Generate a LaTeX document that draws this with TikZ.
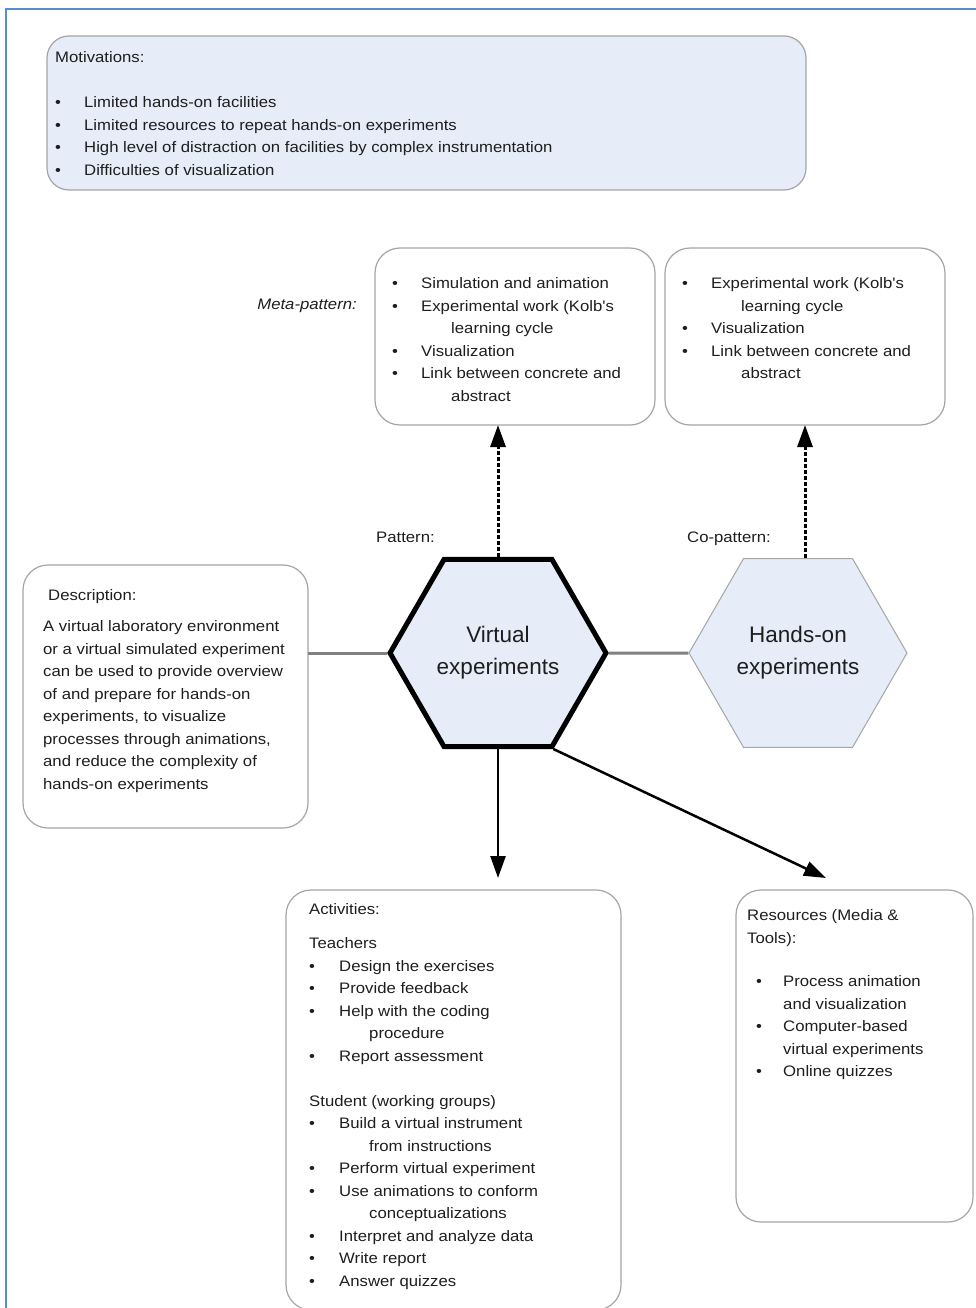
\documentclass[tikz,border=0pt]{standalone}
\usepackage{fontspec}
\setmainfont{Liberation Sans}
\newfontfamily\bodyfont[FakeStretch=1.1]{Liberation Sans}
\usetikzlibrary{arrows.meta,shapes.geometric,calc}
\definecolor{hexfill}{RGB}{230,237,248}
\definecolor{boxline}{RGB}{165,165,165}
\definecolor{conngray}{RGB}{128,128,128}
\definecolor{frameblue}{RGB}{85,142,213}
\definecolor{txt}{RGB}{30,30,30}
\newcommand{\mybul}[1][29pt]{\makebox[#1][l]{•}}
\begin{document}
\begin{tikzpicture}[x=1pt,y=1pt,
  box/.style={draw=boxline,line width=1.2pt,rounded corners=25pt,inner sep=0pt,outer sep=0pt},
  txtblock/.style={anchor=north west,inner sep=0pt,align=left,text=txt,
    font=\bodyfont\fontsize{15.2}{22.5}\selectfont},
  hexa/.style={regular polygon,regular polygon sides=6,fill=hexfill,inner sep=0pt,align=center,
    text=txt,font=\fontsize{22.5}{32}\selectfont},
  grayconn/.style={draw=conngray,line width=3pt},
  dasharrow/.style={line width=3pt,dash pattern=on 4pt off 2pt,-{Triangle[length=22pt,width=15pt]}},
  solidarrow/.style={line width=2.5pt,-{Triangle[length=22pt,width=15pt]}}
]
\useasboundingbox (0,0) rectangle (976,-1308);
% frame
\draw[frameblue,line width=2pt] (5.5,-1310) -- (5.5,-9.5) -- (978,-9.5);

% boxes
\node[box,fill=hexfill,rounded corners=22pt,minimum width=759pt,minimum height=154pt] (mot) at (426.5,-113) {};
\node[box,minimum width=280pt,minimum height=177pt] (meta1) at (515,-336.5) {};
\node[box,minimum width=280pt,minimum height=177pt] (meta2) at (805,-336.5) {};
\node[box,minimum width=285pt,minimum height=263pt] (desc) at (165.5,-696.5) {};
\node[box,minimum width=335pt,minimum height=420pt] (act) at (453.5,-1100) {};
\node[box,minimum width=237pt,minimum height=332pt] (res) at (854.5,-1056) {};

% hexagons
\node[hexa,draw=black,line width=5pt,minimum size=216pt] (hex1) at (498,-653) {\raisebox{-3pt}{Virtual}\\\raisebox{-3pt}{experiments}};
\node[hexa,draw=boxline,line width=1pt,minimum size=218pt] (hex2) at (798,-653) {\raisebox{-3pt}{Hands-on}\\\raisebox{-3pt}{experiments}};

% texts
\node[txtblock] (motT) at (55,-46.75) {\strut Motivations:\\[22.5pt]
\mybul Limited hands-on facilities\\
\mybul Limited resources to repeat hands-on experiments\\
\mybul High level of distraction on facilities by complex instrumentation\\
\mybul Difficulties of visualization};

\node[anchor=base east,inner sep=0pt,text=txt,font=\bodyfont\itshape\fontsize{15.2}{22.5}\selectfont] (metaL) at (357,-309.5) {Meta-pattern:};

\node[txtblock] (meta1T) at (392,-272.75) {\strut\mybul Simulation and animation\\
\mybul Experimental work (Kolb's\\
\hspace*{59pt}learning cycle\\
\mybul Visualization\\
\mybul Link between concrete and\\
\hspace*{59pt}abstract};

\node[txtblock] (meta2T) at (682,-272.75) {\strut\mybul Experimental work (Kolb's\\
\hspace*{59pt}learning cycle\\
\mybul Visualization\\
\mybul Link between concrete and\\
\hspace*{59pt}abstract};

\node[anchor=base west,inner sep=0pt,text=txt,font=\bodyfont\fontsize{15.2}{22.5}\selectfont] (patL) at (376,-542.5) {Pattern:};
\node[anchor=base west,inner sep=0pt,text=txt,font=\bodyfont\fontsize{15.2}{22.5}\selectfont] (copatL) at (687,-542.5) {Co-pattern:};

\node[txtblock] (descT) at (43,-584.75) {\strut\hspace*{5pt}Description:\\[8.5pt]
A virtual laboratory environment\\
or a virtual simulated experiment\\
can be used to provide overview\\
of and prepare for hands-on\\
experiments, to visualize\\
processes through animations,\\
and reduce the complexity of\\
hands-on experiments};

\node[txtblock] (actT) at (309,-898.75) {\strut Activities:\\[11.5pt]
Teachers\\
\mybul[30pt]Design the exercises\\
\mybul[30pt]Provide feedback\\
\mybul[30pt]Help with the coding\\
\hspace*{60pt}procedure\\
\mybul[30pt]Report assessment\\[22.5pt]
Student (working groups)\\
\mybul[30pt]Build a virtual instrument\\
\hspace*{60pt}from instructions\\
\mybul[30pt]Perform virtual experiment\\
\mybul[30pt]Use animations to conform\\
\hspace*{60pt}conceptualizations\\
\mybul[30pt]Interpret and analyze data\\
\mybul[30pt]Write report\\
\mybul[30pt]Answer quizzes};

\node[txtblock] (resT) at (747,-904.75) {\strut Resources (Media \&\\
Tools):\\[21pt]
\hspace*{9pt}\mybul[27pt]Process animation\\
\hspace*{36pt}and visualization\\
\hspace*{9pt}\mybul[27pt]Computer-based\\
\hspace*{36pt}virtual experiments\\
\hspace*{9pt}\mybul[27pt]Online quizzes};

% connectors
\draw[grayconn] (desc.east |- hex1.west) -- (hex1.west);
\draw[grayconn] (hex1.east) -- (hex2.west);
\draw[dasharrow] (hex1.north) -- (hex1.north |- meta1.south);
\draw[dasharrow] (hex2.north -| meta2.south) -- (meta2.south);
\draw[solidarrow,shorten >=12pt] (hex1.south) -- (hex1.south |- act.north);
\coordinate (restip) at (826,-878);
\draw[solidarrow] (hex1.-60) -- (restip);
\end{tikzpicture}
\end{document}
